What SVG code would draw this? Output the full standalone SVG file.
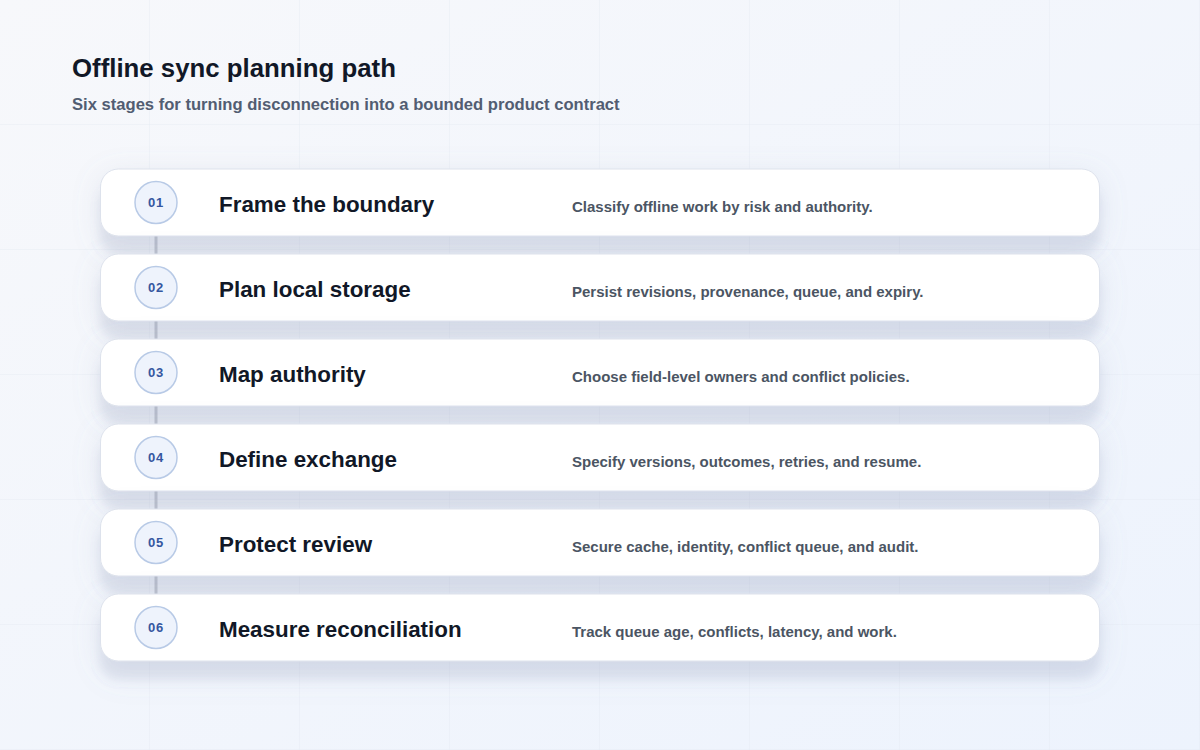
<svg xmlns="http://www.w3.org/2000/svg" width="1200" height="750" viewBox="0 0 1200 750">
  <defs>
    <linearGradient id="bg" x1="0" y1="0" x2="1" y2="1">
      <stop offset="0" stop-color="#f7f8fb"/>
      <stop offset="1" stop-color="#edf3fd"/>
    </linearGradient>
    <pattern id="grid" width="150" height="125" patternUnits="userSpaceOnUse">
      <path d="M150 0V125M0 125H150" fill="none" stroke="#e3e8f0" stroke-width="1" opacity="0.7"/>
    </pattern>
    <filter id="shadow" x="-10%" y="-60%" width="120%" height="240%">
      <feDropShadow dx="0" dy="18" stdDeviation="5" flood-color="#8290b0" flood-opacity="0.17"/>
      <feDropShadow dx="0" dy="6" stdDeviation="14" flood-color="#8a94b0" flood-opacity="0.16"/>
    </filter>
    <style>
      .card{fill:#ffffff;stroke:#dde2ec;stroke-width:1}
      .badge{fill:#eef3fc;stroke:#b8cae6;stroke-width:1.5}
      .num{font-family:"Liberation Sans",Arial,sans-serif;font-weight:700;font-size:13px;fill:#3557a0;letter-spacing:0.8px}
      .title{font-family:"Liberation Sans",Arial,sans-serif;font-weight:700;font-size:22.4px;fill:#111827}
      .desc{font-family:"Liberation Sans",Arial,sans-serif;font-weight:700;font-size:15px;fill:#4b5563}
      .link{stroke:#c5c9d2;stroke-width:3}
    </style>
  </defs>
  <rect width="1200" height="750" fill="url(#bg)"/>
  <rect width="1200" height="750" fill="url(#grid)"/>

  <text x="72" y="77" font-family="'Liberation Sans',Arial,sans-serif" font-weight="700" font-size="25.8" fill="#111827">Offline sync planning path</text>
  <text x="72" y="110" font-family="'Liberation Sans',Arial,sans-serif" font-weight="700" font-size="16.6" fill="#525d72">Six stages for turning disconnection into a bounded product contract</text>

  <g id="connectors">
    <line class="link" x1="156" y1="236" x2="156" y2="254"/>
    <line class="link" x1="156" y1="321" x2="156" y2="339"/>
    <line class="link" x1="156" y1="406" x2="156" y2="424"/>
    <line class="link" x1="156" y1="491" x2="156" y2="509"/>
    <line class="link" x1="156" y1="576" x2="156" y2="594"/>
  </g>

  <g id="stage-01">
    <rect class="card" x="100.5" y="169" width="999" height="67" rx="18" filter="url(#shadow)"/>
    <circle class="badge" cx="156" cy="202.5" r="21"/>
    <text class="num" x="156" y="207" text-anchor="middle">01</text>
    <text class="title" x="219" y="212">Frame the boundary</text>
    <text class="desc" x="572" y="212">Classify offline work by risk and authority.</text>
  </g>
  <g id="stage-02">
    <rect class="card" x="100.5" y="254" width="999" height="67" rx="18" filter="url(#shadow)"/>
    <circle class="badge" cx="156" cy="287.5" r="21"/>
    <text class="num" x="156" y="292" text-anchor="middle">02</text>
    <text class="title" x="219" y="297">Plan local storage</text>
    <text class="desc" x="572" y="297">Persist revisions, provenance, queue, and expiry.</text>
  </g>
  <g id="stage-03">
    <rect class="card" x="100.5" y="339" width="999" height="67" rx="18" filter="url(#shadow)"/>
    <circle class="badge" cx="156" cy="372.5" r="21"/>
    <text class="num" x="156" y="377" text-anchor="middle">03</text>
    <text class="title" x="219" y="382">Map authority</text>
    <text class="desc" x="572" y="382">Choose field-level owners and conflict policies.</text>
  </g>
  <g id="stage-04">
    <rect class="card" x="100.5" y="424" width="999" height="67" rx="18" filter="url(#shadow)"/>
    <circle class="badge" cx="156" cy="457.5" r="21"/>
    <text class="num" x="156" y="462" text-anchor="middle">04</text>
    <text class="title" x="219" y="467">Define exchange</text>
    <text class="desc" x="572" y="467">Specify versions, outcomes, retries, and resume.</text>
  </g>
  <g id="stage-05">
    <rect class="card" x="100.5" y="509" width="999" height="67" rx="18" filter="url(#shadow)"/>
    <circle class="badge" cx="156" cy="542.5" r="21"/>
    <text class="num" x="156" y="547" text-anchor="middle">05</text>
    <text class="title" x="219" y="552">Protect review</text>
    <text class="desc" x="572" y="552">Secure cache, identity, conflict queue, and audit.</text>
  </g>
  <g id="stage-06">
    <rect class="card" x="100.5" y="594" width="999" height="67" rx="18" filter="url(#shadow)"/>
    <circle class="badge" cx="156" cy="627.5" r="21"/>
    <text class="num" x="156" y="632" text-anchor="middle">06</text>
    <text class="title" x="219" y="637">Measure reconciliation</text>
    <text class="desc" x="572" y="637">Track queue age, conflicts, latency, and work.</text>
  </g>
</svg>
